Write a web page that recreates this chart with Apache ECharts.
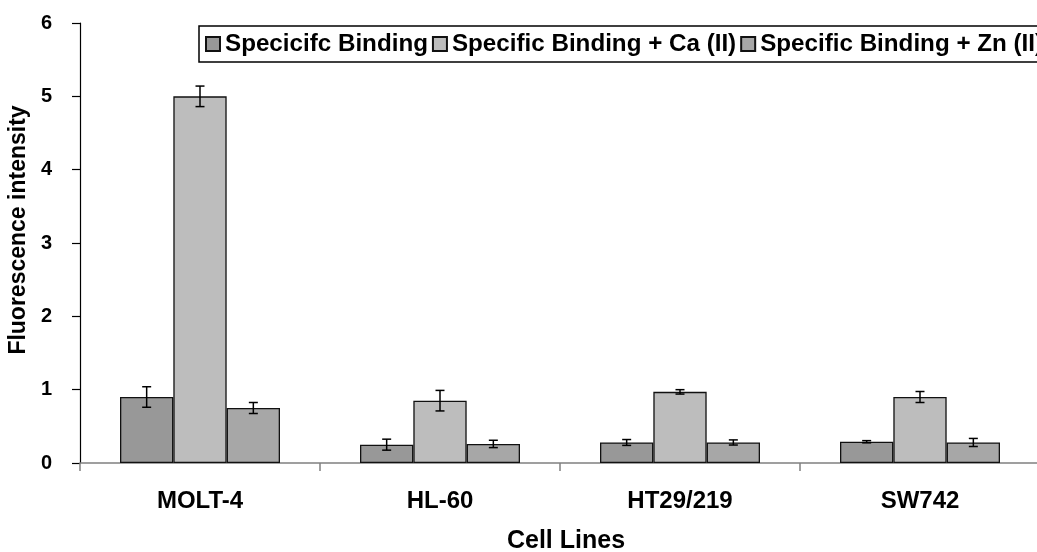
<!DOCTYPE html>
<html>
<head>
<meta charset="utf-8">
<script src="https://cdn.jsdelivr.net/npm/echarts@6/dist/echarts.min.js"></script>
<style>
html,body{margin:0;padding:0;background:#fff;overflow:hidden;}
#chart{width:1037px;height:552px;}
</style>
</head>
<body>
<div id="chart"></div>
<script>
var categories = ['MOLT-4', 'HL-60', 'HT29/219', 'SW742'];
var seriesNames = ['Specicifc Binding', 'Specific Binding + Ca (II)', 'Specific Binding + Zn (II)'];
var specific = [0.90, 0.25, 0.28, 0.29];
var specificCa = [5.00, 0.85, 0.97, 0.90];
var specificZn = [0.75, 0.26, 0.28, 0.28];
var errSpecific = [0.14, 0.075, 0.04, 0.015];
var errCa = [0.14, 0.14, 0.03, 0.075];
var errZn = [0.075, 0.05, 0.035, 0.055];
var yTicks = [0, 1, 2, 3, 4, 5, 6];

var FONT = '"Liberation Sans", Arial, sans-serif';
var colors = ['#989898', '#bdbdbd', '#a7a7a7'];
var values = [specific, specificCa, specificZn];
var errs = [errSpecific, errCa, errZn];
var CAT_GAP = 1 / 3;

function errSeries(s) {
  var data = values[s].map(function (v, i) { return [i, v, errs[s][i]]; });
  return {
    type: 'custom',
    z: 10,
    silent: true,
    encode: { x: 0, y: 1 },
    data: data,
    renderItem: function (params, api) {
      var i = api.value(0), v = api.value(1), e = api.value(2);
      var band = api.size([1, 0])[0];
      var bw = band * (1 - CAT_GAP) / 3;
      var c = api.coord([i, v]);
      var x = c[0] + (s - 1) * bw;
      var top = api.coord([i, v + e])[1];
      var bot = api.coord([i, v - e])[1];
      var hw = 4.5;
      var st = { stroke: '#000', lineWidth: 1.5 };
      return {
        type: 'group',
        children: [
          { type: 'line', shape: { x1: x, y1: top, x2: x, y2: bot }, style: st },
          { type: 'line', shape: { x1: x - hw, y1: top, x2: x + hw, y2: top }, style: st },
          { type: 'line', shape: { x1: x - hw, y1: bot, x2: x + hw, y2: bot }, style: st }
        ]
      };
    }
  };
}

var barSeries = seriesNames.map(function (n, s) {
  return {
    name: n,
    type: 'bar',
    data: values[s],
    barGap: '0%',
    barCategoryGap: (CAT_GAP * 100) + '%',
    itemStyle: { color: colors[s], borderColor: '#111', borderWidth: 1.3 }
  };
});

var chart = echarts.init(document.getElementById('chart'), null, { renderer: 'canvas' });
chart.setOption({
  animation: false,
  backgroundColor: '#fff',
  textStyle: { fontFamily: FONT },
  grid: { left: 80, top: 23, width: 960, height: 440, containLabel: false, outerBoundsMode: 'none' },
  legend: {
    data: seriesNames,
    left: 199,
    top: 26,
    width: 1000,
    orient: 'horizontal',
    borderColor: '#000',
    borderWidth: 1.5,
    padding: [6, 6, 6, 6],
    itemGap: 4,
    itemWidth: 14,
    itemHeight: 14,
    icon: 'rect',
    textStyle: { fontFamily: FONT, fontWeight: 'bold', fontSize: 24.2, color: '#000' }
  },
  xAxis: {
    type: 'category',
    data: categories,
    name: 'Cell Lines',
    nameLocation: 'middle',
    nameGap: 66,
    nameTextStyle: { fontFamily: FONT, fontWeight: 'bold', fontSize: 25, color: '#000', padding: [0, 0, 0, 12] },
    axisLine: { lineStyle: { color: '#808080', width: 1.5 } },
    axisTick: { show: true, length: 8, lineStyle: { color: '#808080', width: 1.5 } },
    axisLabel: { fontFamily: FONT, fontWeight: 'bold', fontSize: 24, color: '#000', margin: 26 },
    splitLine: { show: false }
  },
  yAxis: {
    type: 'value',
    min: yTicks[0],
    max: yTicks[yTicks.length - 1],
    interval: 1,
    name: 'Fluorescence intensity',
    nameLocation: 'middle',
    nameGap: 48,
    nameRotate: 90,
    nameTextStyle: { fontFamily: FONT, fontWeight: 'bold', fontSize: 23, color: '#000', padding: [0, 0, 0, 26] },
    axisLine: { show: true, lineStyle: { color: '#000', width: 1.2 } },
    axisTick: { show: true, length: 8, lineStyle: { color: '#000', width: 1.2 } },
    axisLabel: { fontFamily: FONT, fontWeight: 'bold', fontSize: 20, color: '#000', margin: 28 },
    splitLine: { show: false }
  },
  series: barSeries.concat([errSeries(0), errSeries(1), errSeries(2)])
});
</script>
</body>
</html>
